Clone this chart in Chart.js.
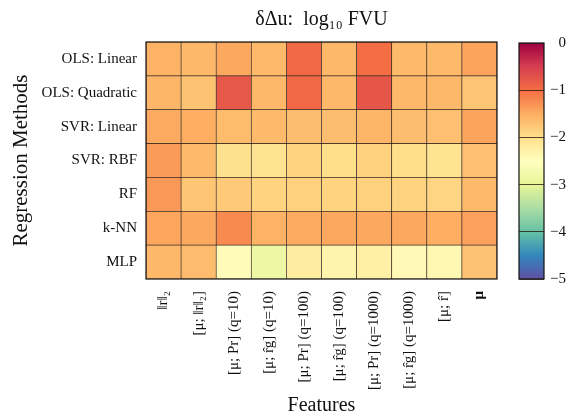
<!DOCTYPE html>
<html>
<head>
<meta charset="utf-8">
<script src="https://cdn.jsdelivr.net/npm/chart.js@4.4.1/dist/chart.umd.min.js"></script>
<style>
  html, body { margin: 0; padding: 0; background: #fff; }
  #wrap { position: relative; width: 566px; height: 417px; }
  #wrap canvas { position: absolute; left: 0; top: 0; }
</style>
</head>
<body>
<div id="wrap">
  <canvas id="heat" width="566" height="417"></canvas>
  <canvas id="cbar" width="566" height="417"></canvas>
</div>
<script>
const methods = ["OLS: Linear", "OLS: Quadratic", "SVR: Linear", "SVR: RBF", "RF", "k-NN", "MLP"];
const features = [
    "‖r‖₂", "[μ; ‖r‖₂]", "[μ; Pr] (q=10)", "[μ; r̂g] (q=10)", "[μ; Pr] (q=100)",
    "[μ; r̂g] (q=100)", "[μ; Pr] (q=1000)", "[μ; r̂g] (q=1000)", "[μ; r̂]", "μ"
];

// log10 FVU per method, columns follow features
const olsLinear    = [-1.55, -1.60, -1.45, -1.62, -0.95, -1.60, -1.00, -1.62, -1.62, -1.42];
const olsQuadratic = [-1.58, -1.70, -0.78, -1.60, -0.95, -1.60, -0.75, -1.60, -1.60, -1.72];
const svrLinear    = [-1.47, -1.50, -1.63, -1.62, -1.65, -1.65, -1.58, -1.65, -1.68, -1.42];
const svrRbf       = [-1.35, -1.62, -2.02, -2.05, -1.88, -2.00, -1.85, -2.00, -2.05, -1.68];
const rf           = [-1.33, -1.73, -1.78, -1.88, -1.85, -1.88, -1.85, -1.88, -1.90, -1.62];
const knn          = [-1.43, -1.45, -1.22, -1.55, -1.47, -1.46, -1.45, -1.45, -1.50, -1.40];
const mlp          = [-1.60, -1.64, -2.45, -2.85, -2.20, -2.32, -2.25, -2.40, -2.38, -1.70];

const rows = [olsLinear, olsQuadratic, svrLinear, svrRbf, rf, knn, mlp];
const colorbarTicks = [0, -1, -2, -3, -4, -5];
const vmin = -5, vmax = 0;

// Spectral colormap stops (matplotlib)
const spectral = ["#9e0142", "#d53e4f", "#f46d43", "#fdae61", "#fee08b", "#ffffbf",
                  "#e6f598", "#abdda4", "#66c2a5", "#3288bd", "#5e4fa2"];

function hexToRgb(h) {
    return [1, 3, 5].map((i) => parseInt(h.slice(i, i + 2), 16));
}

// Spectral_r: vmax -> dark red, vmin -> purple
function colorFor(v) {
    let t = (vmax - v) / (vmax - vmin);
    t = Math.min(1, Math.max(0, t)) * (spectral.length - 1);
    const i = Math.min(spectral.length - 2, Math.floor(t));
    const f = t - i;
    const a = hexToRgb(spectral[i]);
    const b = hexToRgb(spectral[i + 1]);
    const c = a.map((x, k) => Math.round(x + (b[k] - x) * f));
    return `rgb(${c[0]},${c[1]},${c[2]})`;
}

const serif = "'Liberation Serif', 'DejaVu Serif', serif";

const frame = {
    id: "frame",
    afterDatasetsDraw(chart) {
        const { ctx, chartArea: a } = chart;
        ctx.save();
        ctx.strokeStyle = "#111";
        ctx.lineWidth = 1.2;
        ctx.strokeRect(a.left, a.top, a.right - a.left, a.bottom - a.top);
        ctx.restore();
    },
};

// one stacked dataset per method, bottom row first
const datasets = rows
    .map((vals, i) => ({
        label: methods[i],
        data: features.map(() => 1),
        backgroundColor: vals.map(colorFor),
        borderColor: "rgba(40,25,15,0.85)",
        borderWidth: 0.7,
        borderSkipped: false,
        barPercentage: 1,
        categoryPercentage: 1,
    }))
    .reverse();

new Chart(document.getElementById("heat"), {
    type: "bar",
    data: { labels: features, datasets: datasets },
    options: {
        responsive: false,
        animation: false,
        layout: { padding: { left: 0, right: 69, top: 0, bottom: 0 } },
        plugins: {
            legend: { display: false },
            tooltip: { enabled: false },
            title: {
                display: true,
                fullSize: false,
                text: "δΔu:  log₁₀ FVU",
                color: "#111",
                font: { family: serif, size: 20, weight: "normal", lineHeight: 1.2 },
                padding: { top: 8, bottom: 10 },
            },
        },
        scales: {
            x: {
                type: "category",
                stacked: true,
                grid: { display: false },
                border: { display: false },
                ticks: {
                    autoSkip: false,
                    maxRotation: 90,
                    minRotation: 90,
                    padding: 4,
                    color: "#111",
                    font: (c) => ({ family: serif, size: 15, weight: c.index === features.length - 1 ? "bold" : "normal" }),
                },
                title: {
                    display: true,
                    text: "Features",
                    color: "#111",
                    font: { family: serif, size: 20, lineHeight: 1.1 },
                    padding: { top: 0, bottom: 0 },
                },
                afterFit: (s) => { s.height = 138; },
            },
            y: {
                type: "linear",
                stacked: true,
                min: 0,
                max: methods.length,
                grid: { display: false, drawTicks: false },
                border: { display: false },
                afterBuildTicks: (s) => {
                    s.ticks = methods.map((m, i) => ({ value: methods.length - 0.5 - i }));
                },
                ticks: {
                    padding: 9,
                    color: "#111",
                    font: { family: serif, size: 15 },
                    callback: (v) => methods[Math.round(methods.length - 0.5 - v)],
                },
                title: {
                    display: true,
                    text: "Regression Methods",
                    color: "#111",
                    font: { family: serif, size: 21, lineHeight: 1.2 },
                    padding: { top: 9, bottom: 0 },
                },
                afterFit: (s) => { s.width = 146; },
            },
        },
    },
    plugins: [frame],
});

// colorbar
new Chart(document.getElementById("cbar"), {
    type: "bar",
    data: {
        labels: [""],
        datasets: [{
            data: [[vmin, vmax]],
            barPercentage: 1,
            categoryPercentage: 1,
            borderWidth: 0,
            backgroundColor: (c) => {
                const chart = c.chart;
                if (!chart.chartArea) return "#fff";
                const y = chart.scales.y;
                const g = chart.ctx.createLinearGradient(0, y.getPixelForValue(vmax), 0, y.getPixelForValue(vmin));
                spectral.forEach((col, i) => g.addColorStop(i / (spectral.length - 1), col));
                return g;
            },
        }],
    },
    options: {
        responsive: false,
        animation: false,
        layout: { padding: { left: 519, right: 0, top: 43, bottom: 138 } },
        plugins: { legend: { display: false }, tooltip: { enabled: false } },
        scales: {
            x: { display: false },
            y: {
                position: "right",
                min: vmin,
                max: vmax,
                afterBuildTicks: (s) => { s.ticks = colorbarTicks.map((v) => ({ value: v })); },
                grid: { z: 1, color: "rgba(40,25,15,0.8)", lineWidth: 1, drawTicks: false },
                border: { display: false },
                ticks: {
                    padding: -4,
                    crossAlign: "far",
                    color: "#111",
                    font: { family: serif, size: 15 },
                    callback: (v) => String(v).replace("-", "−"),
                },
                afterFit: (s) => { s.width = 22; },
            },
        },
    },
    plugins: [frame],
});
</script>
</body>
</html>
